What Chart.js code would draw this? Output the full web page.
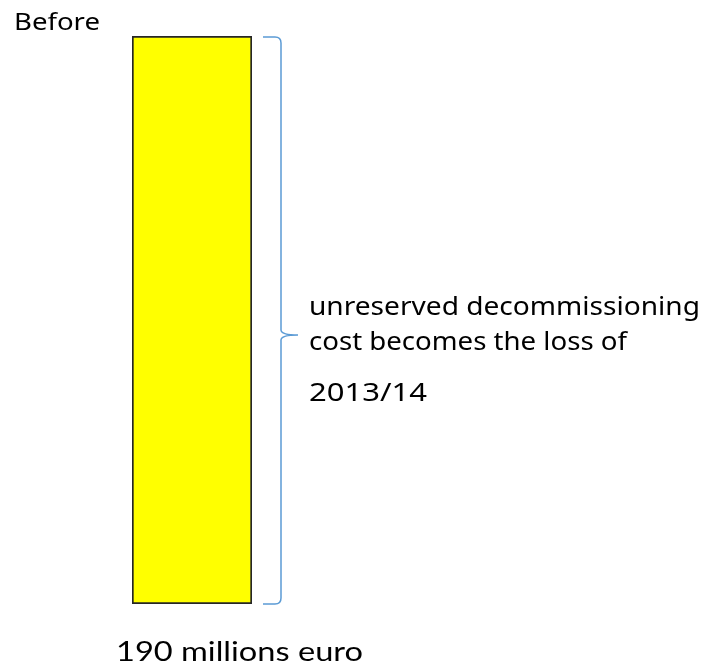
<!DOCTYPE html>
<html>
<head>
<meta charset="utf-8">
<script src="https://cdn.jsdelivr.net/npm/chart.js@4/dist/chart.umd.min.js"></script>
<style>
  html, body { margin: 0; padding: 0; background: #fff; }
  canvas { display: block; }
</style>
</head>
<body>
<canvas id="chart" width="707" height="670"></canvas>
<script>
// data
const categories = ['Before'];
const values = [190];                 // millions euro
const valueLabel = ['190 millions euro'];
const noteLines = ['unreserved decommissioning', 'cost becomes the loss of', '2013/14'];
const braceTipValue = 90;            // where the brace points, on the value scale

// draws text squeezed/stretched horizontally to a target width
function fitText(ctx, text, x, y, font, width) {
  ctx.save();
  ctx.font = font;
  const w = ctx.measureText(text).width;
  ctx.translate(x, y);
  ctx.scale(width / w, 1);
  ctx.fillText(text, 0, 0);
  ctx.restore();
}

const bracePlugin = {
  id: 'brace',
  afterDatasetsDraw(chart) {
    const { ctx, chartArea, scales: { y } } = chart;
    const top = y.getPixelForValue(values[0]) + 1;
    const bottom = y.getPixelForValue(0);
    const mid = y.getPixelForValue(braceTipValue);
    const x0 = chartArea.right + 11;
    const x1 = chartArea.right + 29;
    const tipX = chartArea.right + 46;
    const r = 6;
    ctx.save();
    ctx.strokeStyle = '#5B9BD5';
    ctx.lineWidth = 1.5;
    ctx.beginPath();
    ctx.moveTo(x0, top);
    ctx.lineTo(x1 - r, top);
    ctx.quadraticCurveTo(x1, top, x1, top + r);
    ctx.lineTo(x1, mid - 5);
    ctx.quadraticCurveTo(x1, mid, tipX, mid);
    ctx.moveTo(tipX, mid);
    ctx.quadraticCurveTo(x1, mid, x1, mid + 5);
    ctx.lineTo(x1, bottom - r);
    ctx.quadraticCurveTo(x1, bottom, x1 - r, bottom);
    ctx.lineTo(x0, bottom);
    ctx.stroke();
    ctx.restore();
  }
};

const textPlugin = {
  id: 'texts',
  afterDraw(chart) {
    const { ctx, chartArea } = chart;
    const gothic = '25px "Noto Sans", "DejaVu Sans", sans-serif';
    ctx.save();
    ctx.fillStyle = '#000';
    ctx.textBaseline = 'alphabetic';
    ctx.textAlign = 'left';
    fitText(ctx, categories[0], 14, 30, '23px "Noto Sans", "DejaVu Sans", sans-serif', 86);
    const noteX = chartArea.right + 57;
    fitText(ctx, noteLines[0], noteX, 315, gothic, 391);
    fitText(ctx, noteLines[1], noteX, 350, gothic, 318);
    fitText(ctx, noteLines[2], noteX, 401, gothic, 118);
    fitText(ctx, valueLabel[0], 116, chartArea.bottom + 57, '27px Lato, "Open Sans", sans-serif', 247);
    ctx.restore();
  }
};

new Chart(document.getElementById('chart'), {
  type: 'bar',
  data: {
    labels: categories,
    datasets: [{
      data: values,
      backgroundColor: '#FFFF00',
      borderColor: '#262626',
      borderWidth: 2,
      borderSkipped: false,
      barPercentage: 1,
      categoryPercentage: 1
    }]
  },
  options: {
    responsive: false,
    animation: false,
    layout: { padding: { left: 132, right: 455, top: 36, bottom: 66 } },
    scales: {
      x: { display: false },
      y: { display: false, min: 0, max: 190 }
    },
    plugins: {
      legend: { display: false },
      tooltip: { enabled: false },
      title: { display: false }
    }
  },
  plugins: [bracePlugin, textPlugin]
});
</script>
</body>
</html>
